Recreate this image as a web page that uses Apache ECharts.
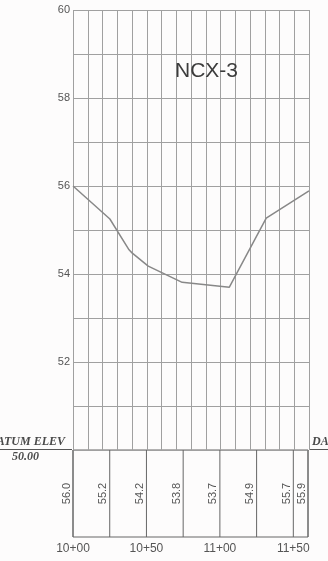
<!DOCTYPE html>
<html>
<head>
<meta charset="utf-8">
<script src="https://cdn.jsdelivr.net/npm/echarts@6/dist/echarts.min.js"></script>
<style>
html,body{margin:0;padding:0;background:#fdfcfc;}
#c{width:328px;height:561px;}
</style>
</head>
<body>
<div id="c"></div>
<script>
// ---- data ----
const chartTitle = 'NCX-3';
const profileStations = [1000, 1025, 1038, 1040, 1051, 1074, 1106, 1131, 1160];
const profileElev     = [56.0, 55.25, 54.55, 54.48, 54.18, 53.81, 53.70, 55.27, 55.89];
const tableStations = [1000, 1025, 1050, 1075, 1100, 1125, 1150, 1160];
const tableElev     = [56.0, 55.2, 54.2, 53.8, 53.7, 54.9, 55.7, 55.9];
const yTickLabels = [52, 54, 56, 58, 60];
const xTickValues = [1000, 1050, 1100, 1150];
const xTickLabels = ['10+00', '10+50', '11+00', '11+50'];
const datumText = 'DATUM ELEV';
const datumValue = '50.00';

const chart = echarts.init(document.getElementById('c'), null, {renderer: 'canvas'});
const gridColor = '#a0a0a0';
const tableColor = '#666';
const textColor = '#555';

const option = {
  backgroundColor: '#fdfcfc',
  animation: false,
  title: {
    text: chartTitle,
    left: 170, top: 56,
    textStyle: {fontFamily: 'Liberation Sans, Arial, sans-serif', fontSize: 21, fontWeight: 'normal', color: '#3c3c3c'}
  },
  grid: [
    {left: 73, width: 236, top: 10, height: 440, show: false},
    {left: 73, width: 235, top: 450, height: 87, show: true, borderColor: tableColor, borderWidth: 1, backgroundColor: 'transparent'}
  ],
  xAxis: [
    {gridIndex: 0, type: 'value', min: 1000, max: 1160, interval: 10,
     axisLine: {show: false}, axisTick: {show: false}, axisLabel: {show: false},
     splitLine: {show: true, lineStyle: {color: gridColor, width: 1}}},
    {gridIndex: 1, type: 'value', min: 1000, max: 1160, interval: 50,
     axisLine: {show: false}, axisTick: {show: false}, splitLine: {show: false},
     axisLabel: {show: true, margin: 6, color: textColor, fontSize: 12,
       fontFamily: 'Liberation Sans, Arial, sans-serif',
       formatter: v => { const i = xTickValues.indexOf(v); return i >= 0 ? xTickLabels[i] : ''; }}}
  ],
  yAxis: [
    {gridIndex: 0, type: 'value', min: 50, max: 60, interval: 1,
     axisLine: {show: false}, axisTick: {show: false},
     axisLabel: {margin: 3, color: textColor, fontSize: 11, fontFamily: 'Liberation Sans, Arial, sans-serif',
       formatter: v => yTickLabels.indexOf(v) >= 0 ? String(v) : ''},
     splitLine: {show: true, lineStyle: {color: gridColor, width: 1}}},
    {gridIndex: 1, type: 'value', min: 0, max: 1, show: false}
  ],
  series: [
    {type: 'line', xAxisIndex: 0, yAxisIndex: 0, symbol: 'none',
     lineStyle: {color: '#888', width: 1.5},
     data: profileStations.map((s, i) => [s, profileElev[i]])},
    {type: 'custom', xAxisIndex: 1, yAxisIndex: 1, clip: false,
     data: tableStations.map((s, i) => [s, tableElev[i]]),
     renderItem: function (params, api) {
       const x = api.value(0);
       const top = api.coord([x, 1]);
       const bot = api.coord([x, 0]);
       const mid = api.coord([x, 0.5]);
       return {
         type: 'group',
         children: [
           {type: 'line', shape: {x1: top[0], y1: top[1], x2: bot[0], y2: bot[1]},
            style: {stroke: tableColor, lineWidth: 1}},
           {type: 'text', x: mid[0] - 1, y: mid[1], rotation: Math.PI / 2,
            style: {text: api.value(1).toFixed(1), textAlign: 'center', textVerticalAlign: 'bottom',
              font: '11px "Liberation Sans", Arial, sans-serif', fill: textColor}}
         ]
       };
     }}
  ],
  graphic: [
    {type: 'text', right: 328 - 65, top: 436,
     style: {text: datumText, font: 'italic bold 12px "Liberation Serif", serif', fill: '#4a4a4a'}},
    {type: 'line', shape: {x1: 0, y1: 449.5, x2: 72, y2: 449.5}, style: {stroke: '#555', lineWidth: 1}},
    {type: 'text', left: 12, top: 451,
     style: {text: datumValue, font: 'italic bold 12px "Liberation Serif", serif', fill: '#4a4a4a'}},
    {type: 'text', left: 312, top: 436,
     style: {text: datumText, font: 'italic bold 12px "Liberation Serif", serif', fill: '#4a4a4a'}},
    {type: 'line', shape: {x1: 310, y1: 449.5, x2: 328, y2: 449.5}, style: {stroke: '#555', lineWidth: 1}}
  ]
};
chart.setOption(option);
</script>
</body>
</html>
